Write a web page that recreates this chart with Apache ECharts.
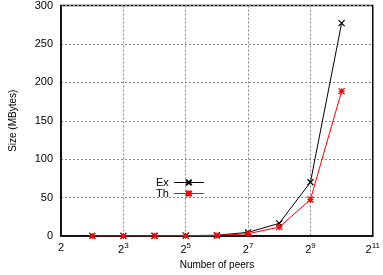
<!DOCTYPE html>
<html>
<head>
<meta charset="utf-8">
<script src="https://cdn.jsdelivr.net/npm/echarts@6/dist/echarts.min.js"></script>
<style>
  html, body { margin: 0; padding: 0; background: #fff; }
  #chart { width: 383px; height: 275px; }
</style>
</head>
<body>
<div id="chart"></div>
<script>
  // peers: 2^1 .. 2^11 (first and last only span the axis)
  var peers = ['2', '4', '8', '16', '32', '64', '128', '256', '512', '1024', '2048'];
  var exSize = ['-', 0.1, 0.2, 0.3, 0.5, 1.0, 4.7, 16.5, 70, 277, '-'];
  var thSize = ['-', 0.1, 0.15, 0.25, 0.4, 0.7, 3.0, 11.5, 47.5, 188.5, '-'];
  var yTicks = [0, 50, 100, 150, 200, 250, 300];

  var crossPath = 'path://M0,0L10,10M10,0L0,10';
  var starPath = 'path://M0,0L10,10M10,0L0,10M5,0L5,10M0,5L10,5';

  var dom = document.getElementById('chart');
  var myChart = echarts.init(dom);
  var option = {
      animation: false,
      textStyle: { fontFamily: 'Liberation Sans' },
      grid: {
          left: 57, right: 5, top: 5, bottom: 37,
          show: true,
          borderColor: '#000',
          borderWidth: 1.5,
          backgroundColor: 'transparent'
      },
      legend: {
          left: 156,
          top: 177,
          orient: 'vertical',
          align: 'right',
          itemWidth: 30,
          itemHeight: 7,
          itemGap: 0,
          padding: 0,
          lineStyle: { width: 1 },
          textStyle: { fontSize: 11, lineHeight: 10, color: '#000', fontFamily: 'Liberation Sans' },
          data: ['Ex', 'Th']
      },
      xAxis: {
          type: 'category',
          boundaryGap: false,
          data: peers,
          name: 'Number of peers',
          nameLocation: 'middle',
          nameGap: 24,
          nameTextStyle: { fontSize: 10, color: '#000' },
          axisLine: { lineStyle: { color: '#000', width: 1.5 } },
          axisTick: { show: false },
          axisLabel: {
              interval: function (i) { return i % 2 === 0; },
              margin: 6,
              color: '#000',
              formatter: function (v) {
                  var n = Math.round(Math.log2(+v));
                  return n === 1 ? '{b|2}' : '{b|2}{e|' + n + '}';
              },
              rich: {
                  b: { fontSize: 11, color: '#000' },
                  e: { fontSize: 8, color: '#000', padding: [0, 0, 7, 0] }
              }
          },
          splitLine: {
              show: true,
              interval: function (i) { return i % 2 === 0; },
              lineStyle: { color: '#888', type: [2, 2], width: 1 }
          }
      },
      yAxis: {
          type: 'value',
          min: 0,
          max: 300,
          interval: 50,
          name: 'Size (MBytes)',
          nameLocation: 'middle',
          nameGap: 43,
          nameTextStyle: { fontSize: 10, color: '#000' },
          axisLine: { show: true, lineStyle: { color: '#000', width: 1.5 } },
          axisTick: { show: false },
          axisLabel: { fontSize: 11, color: '#000', margin: 8,
              formatter: function (v) { return yTicks.indexOf(v) >= 0 ? String(v) : ''; } },
          splitLine: { lineStyle: { color: '#888', type: [2, 2], width: 1 } }
      },
      series: [
          {
              name: 'Ex',
              type: 'line',
              data: exSize,
              symbol: crossPath,
              symbolSize: 6,
              lineStyle: { color: '#000', width: 1 },
              itemStyle: { color: '#000', borderColor: '#000', borderWidth: 1.2 }
          },
          {
              name: 'Th',
              type: 'line',
              data: thSize,
              symbol: starPath,
              symbolSize: 6,
              lineStyle: { color: '#ff0000', width: 1 },
              itemStyle: { color: '#ff0000', borderColor: '#ff0000', borderWidth: 1.2 }
          }
      ]
  };
  myChart.setOption(option, true);
</script>
</body>
</html>
